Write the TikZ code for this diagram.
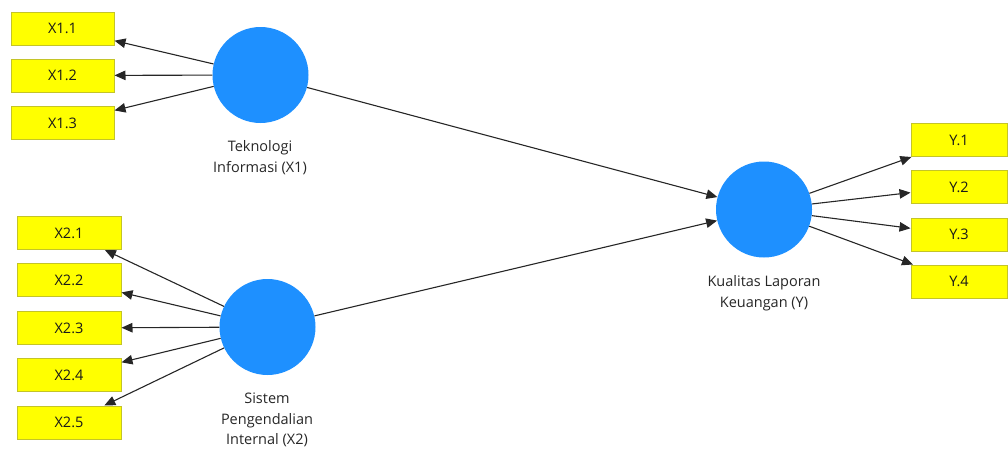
\documentclass[tikz,border=0pt]{standalone}
\usepackage{fontspec}
\setmainfont{Open Sans}
\usetikzlibrary{arrows.meta, positioning}
\definecolor{blu}{RGB}{30,144,255}
\definecolor{giallo}{RGB}{255,255,0}
\definecolor{bordo}{RGB}{196,196,40}

\begin{document}
\begin{tikzpicture}[x = 1pt, y = -1pt,
    lv/.style = {circle, fill = blu, minimum size = 96pt, inner sep = 0pt},
    ind/.style = {rectangle, fill = giallo, draw = bordo, line width = 1pt, minimum width = 103pt, minimum height = 33pt, inner sep = 0pt, text = black!90, font = \fontsize{14.5}{16}\selectfont},
    lbl/.style = {align = center, font = \fontsize{14.5}{20.5}\selectfont, text = black!85},
    arr/.style = {-{Triangle[length = 11pt, width = 9.5pt]}, line width = 1.1pt, black!85}]
    % Cornice
    \useasboundingbox (0,0) rectangle (1008,450);
    % Variabili latenti
    \node[lv] (x1) at (260.5,75) {};
    \node[lv] (x2) at (267.5,327) {};
    \node[lv] (y) at (764,209.5) {};
    \node[lbl] (x1l) at (260,157.5) {Teknologi\\Informasi (X1)};
    \node[lbl] (x2l) at (267,420) {Sistem\\Pengendalian\\Internal (X2)};
    \node[lbl] (yl) at (764,293) {Kualitas Laporan\\Keuangan (Y)};
    % Indicatori X1
    \foreach \k/\yy in {1/28.5, 2/75.5, 3/123}{
        \node[ind] (x1-\k) at (62.5,\yy) {X1.\k};
        \draw[arr] (x1) -- (x1-\k);
    }
    % Indicatori X2
    \foreach \k/\yy in {1/233, 2/280, 3/328, 4/375, 5/422.5}{
        \node[ind, minimum width = 104pt] (x2-\k) at (69,\yy) {X2.\k};
        \draw[arr] (x2) -- (x2-\k);
    }
    % Indicatori Y
    \foreach \k/\yy in {1/140, 2/187, 3/234.5, 4/281.5}{
        \node[ind, minimum width = 96pt] (y-\k) at (959,\yy) {Y.\k};
        \draw[arr] (y) -- (y-\k);
    }
    % Percorsi
    \draw[arr] (x1) -- (y);
    \draw[arr] (x2) -- (y);
\end{tikzpicture}
\end{document}
